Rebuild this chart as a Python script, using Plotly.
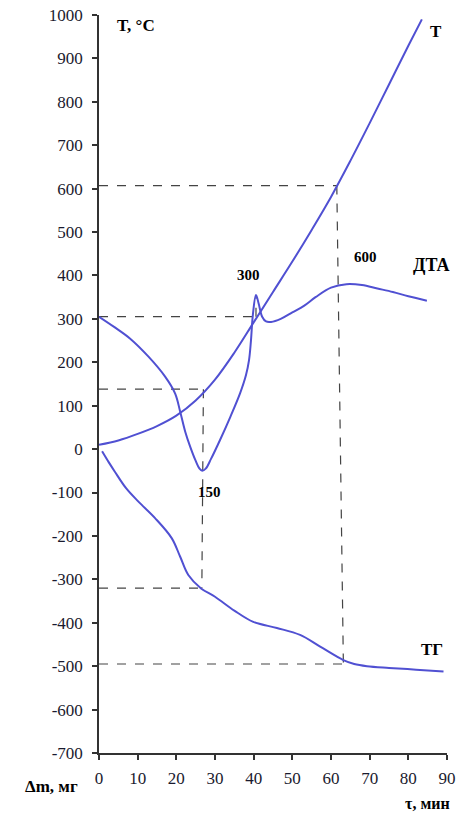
import plotly.graph_objects as go

# Time axis values (min) and curve values
t_x = [0, 5, 10, 15, 20, 25, 30, 35, 40, 45, 50, 55, 60, 65, 70, 75, 80, 83.5]
t_y = [10, 20, 35, 53, 77, 112, 160, 222, 292, 362, 432, 505, 581, 664, 751, 840, 929, 990]

dta_x = [0, 4, 8, 12.8, 17.1, 19.7, 21, 22.3, 23.6, 24.9, 26, 26.7, 27.6, 29, 31.3, 34, 36.5, 38, 38.8, 39.3, 39.8, 40.6, 41.3, 42.2, 43.2, 44.5, 47, 50, 53, 56, 60, 64, 68, 72, 76, 80, 84.8]
dta_y = [305, 281, 255, 213, 167, 128, 86, 40, 5, -25, -45, -50, -45, -22, 21, 75, 129, 170, 205, 250, 310, 355, 335, 305, 294, 293, 300, 315, 330, 350, 372, 380, 378, 370, 362, 352, 342]

tg_x = [0.8, 2.5, 4.1, 7, 10.2, 14.5, 18.8, 21, 23.1, 26.4, 30, 35, 39.9, 46, 52, 57.2, 63.2, 66, 69.3, 75, 82, 89.1]
tg_y = [-5, -30, -52, -90, -121, -159, -205, -248, -290, -321, -340, -372, -398, -412, -428, -455, -486, -495, -500, -504, -508, -512]

x_ticks = [0, 10, 20, 30, 40, 50, 60, 70, 80, 90]
y_ticks = list(range(-700, 1001, 100))
y_tick_text = [str(v) for v in y_ticks]  # plain hyphen minus as in the reference

# Dashed guide lines (x, y pairs)
guides = [
    ([0, 61.5], [607, 607]),
    ([61.5, 63.2], [607, -495]),
    ([0, 63.2], [-495, -495]),
    ([0, 40.6], [305, 305]),
    ([40.6, 40.6], [305, 355]),
    ([0, 27.0], [138, 138]),
    ([27.0, 26.6], [138, -320]),
    ([0, 26.6], [-320, -320]),
]

labels = [
    ("T, °C", 9.6, 975, 17),
    ("T", 87.2, 961, 17),
    ("ДТА", 86.1, 424, 18),
    ("600", 68.9, 443, 15),
    ("300", 38.7, 401, 15),
    ("150", 28.7, -98, 15),
    ("ТГ", 86.1, -461, 17),
]

curve_color = "#5050D2"
serif = "Liberation Serif"

fig = go.Figure()
for gx, gy in guides:
    fig.add_trace(go.Scatter(x=gx, y=gy, mode="lines",
                             line=dict(color="#444444", width=1.2, dash="dash"),
                             hoverinfo="skip", showlegend=False))
for xs, ys in [(t_x, t_y), (dta_x, dta_y), (tg_x, tg_y)]:
    fig.add_trace(go.Scatter(x=xs, y=ys, mode="lines",
                             line=dict(color=curve_color, width=2, shape="spline", smoothing=1.0),
                             showlegend=False))

for text, lx, ly, sz in labels:
    fig.add_annotation(x=lx, y=ly, xref="x", yref="y", text=f"<b>{text}</b>",
                       showarrow=False, xanchor="center", yanchor="middle",
                       font=dict(family=serif, size=sz, color="black"))

fig.add_annotation(x=(51 - 99) / 348, y=(753 - 786) / 738, xref="paper", yref="paper",
                   text="<b>Δm, мг</b>", showarrow=False, xanchor="center", yanchor="middle",
                   font=dict(family=serif, size=17, color="black"))
fig.add_annotation(x=(427 - 99) / 348, y=(753 - 803) / 738, xref="paper", yref="paper",
                   text="<b>τ, мин</b>", showarrow=False, xanchor="center", yanchor="middle",
                   font=dict(family=serif, size=16, color="black"))

fig.update_layout(
    width=462, height=815,
    margin=dict(l=99, r=15, t=15, b=62),
    paper_bgcolor="white", plot_bgcolor="white",
    font=dict(family=serif, size=17, color="#1a1a2e"),
)
fig.update_xaxes(range=[0, 90], tickvals=x_ticks, showgrid=False, zeroline=False,
                 showline=True, linecolor="#333333", linewidth=1.5, automargin=False,
                 ticks="outside", ticklen=5, tickcolor="#333333", tickwidth=1.5,
                 ticklabelstandoff=4)
fig.update_yaxes(range=[-700, 1000], tickvals=y_ticks, ticktext=y_tick_text,
                 showgrid=False, zeroline=False, automargin=False,
                 showline=True, linecolor="#333333", linewidth=1.5,
                 ticks="outside", ticklen=5, tickcolor="#333333", tickwidth=1.5,
                 ticklabelstandoff=6)

fig.write_html("out.html")
